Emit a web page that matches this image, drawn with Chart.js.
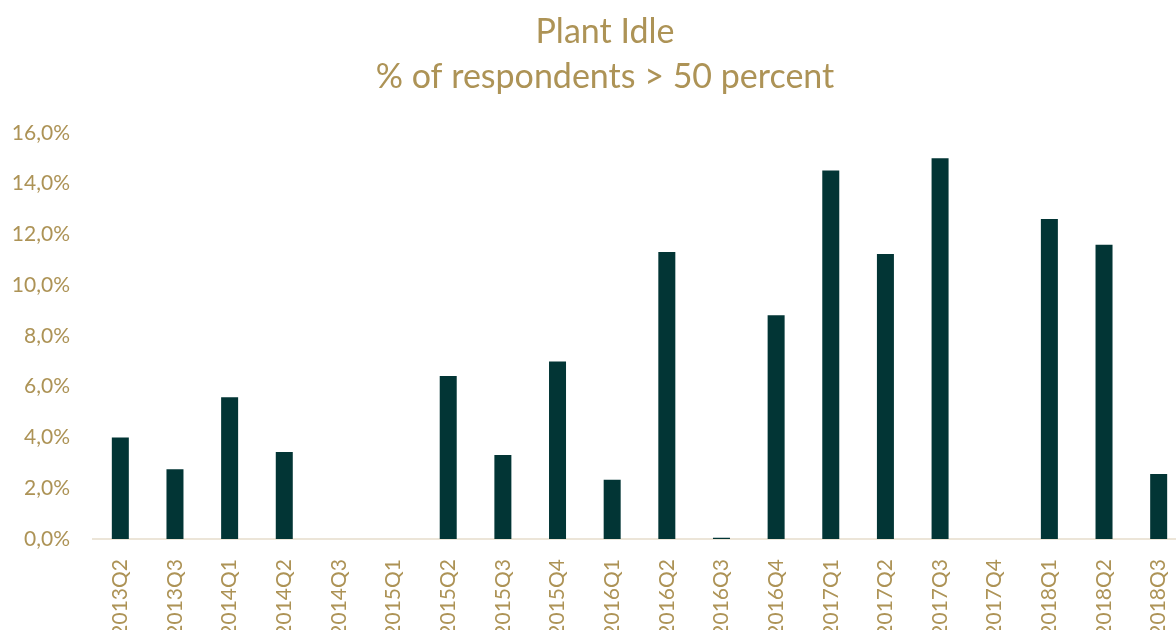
<!DOCTYPE html>
<html>
<head>
<meta charset="utf-8">
<script src="https://cdn.jsdelivr.net/npm/chart.js@4/dist/chart.umd.min.js"></script>
<style>
  html, body { margin: 0; padding: 0; background: #fff; }
  #wrap { width: 1176px; height: 630px; overflow: hidden; position: relative; }
  canvas { display: block; }
</style>
</head>
<body>
<div id="wrap">
  <canvas id="chartIdle" width="1210" height="660"></canvas>
</div>
<script>
// quarters and share of respondents (%) with plant idle > 50 percent
const quarters = ['2013Q2', '2013Q3', '2014Q1', '2014Q2', '2014Q3', '2015Q1', '2015Q2', '2015Q3', '2015Q4', '2016Q1',
    '2016Q2', '2016Q3', '2016Q4', '2017Q1', '2017Q2', '2017Q3', '2017Q4', '2018Q1', '2018Q2', '2018Q3'];
const idleShare = [4.0, 2.75, 5.58, 3.43, 0, 0, 6.42, 3.31, 6.99, 2.33,
    11.3, 0.05, 8.81, 14.51, 11.22, 15.0, 0, 12.6, 11.59, 2.56];
const yTicks = [0, 2, 4, 6, 8, 10, 12, 14, 16];

const gold = '#ad9356';
const barColor = '#023535';

new Chart(document.getElementById('chartIdle'), {
    type: 'bar',
    data: {
        labels: quarters,
        datasets: [{
            label: 'Plant Idle',
            data: idleShare,
            backgroundColor: barColor,
            borderWidth: 0,
            inflateAmount: 0,
            barThickness: 17
        }]
    },
    options: {
        responsive: false,
        animation: false,
        layout: { padding: 0 },
        plugins: {
            legend: { display: false },
            tooltip: { enabled: false },
            title: {
                display: true,
                text: ['Plant Idle', '% of respondents > 50 percent'],
                color: gold,
                font: { family: 'Lato', size: 34, weight: 'normal', lineHeight: 1.32 },
                padding: { top: 10, bottom: 33 }
            }
        },
        scales: {
            x: {
                grid: { display: false, drawTicks: false },
                border: { display: true, color: '#ece5d8', width: 2 },
                ticks: {
                    color: gold,
                    font: { family: 'Lato', size: 21 },
                    minRotation: 90,
                    maxRotation: 90,
                    autoSkip: false,
                    padding: 20
                },
                afterFit: s => { s.height = 121; }
            },
            y: {
                min: 0,
                max: 16,
                afterBuildTicks: s => { s.ticks = yTicks.map(v => ({ value: v })); },
                grid: { display: false, drawTicks: false },
                border: { display: false },
                ticks: {
                    color: gold,
                    font: { family: 'Lato', size: 21 },
                    padding: 23,
                    callback: v => v.toFixed(1).replace('.', ',') + '%'
                },
                afterFit: s => { s.width = 93; }
            },
            // empty right-hand axis, only keeps the plot narrower than the title
            yRight: {
                position: 'right',
                min: 0,
                max: 16,
                grid: { display: false, drawTicks: false },
                border: { display: false },
                ticks: { display: false },
                afterFit: s => { s.width = 24; }
            }
        }
    }
});
</script>
</body>
</html>
